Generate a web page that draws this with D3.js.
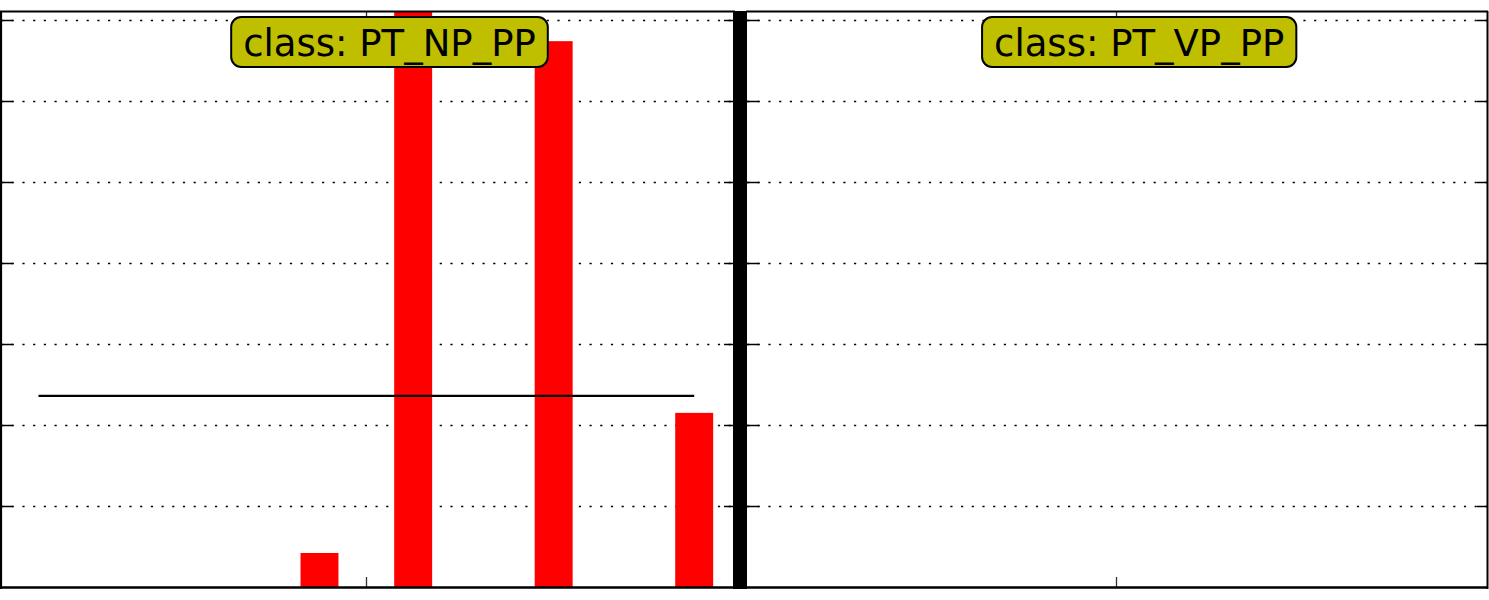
<!DOCTYPE html>
<html><head><meta charset="utf-8">
<script src="https://cdn.jsdelivr.net/npm/d3@7"></script>
<style>html,body{margin:0;padding:0;background:#fff;overflow:hidden}</style>
</head><body>
<svg id="c" width="1489" height="600"></svg>
<script>
// ---- data ----
const binCenters = [-7,-6,-5,-4,-3,-2,-1,0,1,2,3,4,5,6,7];
const countsNP = [0,0,0,0,0,0,0.42,0,7.4,0,0,6.74,0,0,2.15];
const countsVP = [0,0,0,0,0,0,0,0,0,0,0,0,0,0,0];
const refLevelNP = 2.36;
const yTicks = [0,1,2,3,4,5,6,7];
const xTicks = [0];
const panelTitles = ["class: PT_NP_PP", "class: PT_VP_PP"];

(function(){
const svg = d3.select("#c");
const yTop = 12, yBot = 587;
const panels = [
  {x0: 1, x1: 734, counts: countsNP, ref: refLevelNP, title: panelTitles[0]},
  {x0: 747, x1: 1487, counts: countsVP, ref: null, title: panelTitles[1]}
];
const y = d3.scaleLinear().domain([0, 7.1]).range([yBot, yTop]);

panels.forEach((p, i) => {
  const x = d3.scaleLinear().domain([-7.8, 7.85]).range([p.x0, p.x1]);
  const g = svg.append("g");
  const cid = "clip" + i;
  svg.append("clipPath").attr("id", cid).append("rect")
    .attr("x", p.x0).attr("y", yTop).attr("width", p.x1 - p.x0).attr("height", yBot - yTop);

  // grid
  g.selectAll(".grid").data(yTicks.slice(1)).join("line")
    .attr("x1", p.x0).attr("x2", p.x1)
    .attr("y1", d => Math.round(y(d)) + 0.5).attr("y2", d => Math.round(y(d)) + 0.5)
    .attr("stroke", "#000").attr("stroke-width", 1.5).attr("stroke-dasharray", "2.2,8.5");

  // bars
  const bw = 0.81;
  g.append("g").attr("clip-path", `url(#${cid})`)
    .selectAll("rect").data(binCenters.map((c, k) => ({c, v: p.counts[k]})).filter(d => d.v > 0))
    .join("rect")
    .attr("x", d => x(d.c - bw / 2)).attr("width", d => x(d.c + bw / 2) - x(d.c - bw / 2))
    .attr("y", d => y(d.v)).attr("height", d => y(0) - y(d.v))
    .attr("fill", "#ff0000");

  // reference line
  if (p.ref !== null) {
    g.append("line")
      .attr("x1", x(binCenters[0])).attr("x2", x(binCenters[binCenters.length - 1]))
      .attr("y1", y(p.ref)).attr("y2", y(p.ref))
      .attr("stroke", "#000").attr("stroke-width", 2.2);
  }

  // y ticks (inward, both sides)
  g.selectAll(".tl").data(yTicks.slice(1)).join("line")
    .attr("x1", p.x0).attr("x2", p.x0 + 12)
    .attr("y1", d => Math.round(y(d)) + 0.5).attr("y2", d => Math.round(y(d)) + 0.5)
    .attr("stroke", "#000").attr("stroke-width", 1.5);
  g.selectAll(".tr").data(yTicks.slice(1)).join("line")
    .attr("x1", p.x1 - 10).attr("x2", p.x1)
    .attr("y1", d => Math.round(y(d)) + 0.5).attr("y2", d => Math.round(y(d)) + 0.5)
    .attr("stroke", "#000").attr("stroke-width", 1.5);
  // x ticks
  g.selectAll(".xb").data(xTicks).join("line")
    .attr("x1", d => Math.round(x(d)) + 0.5).attr("x2", d => Math.round(x(d)) + 0.5)
    .attr("y1", yBot - 10).attr("y2", yBot).attr("stroke", "#333").attr("stroke-width", 1.3);
  g.selectAll(".xt").data(xTicks).join("line")
    .attr("x1", d => Math.round(x(d)) + 0.5).attr("x2", d => Math.round(x(d)) + 0.5)
    .attr("y1", yTop).attr("y2", yTop + 5).attr("stroke", "#333").attr("stroke-width", 1.3);

  // spines
  g.append("line").attr("x1", p.x0 - 1).attr("x2", p.x1 + 1).attr("y1", yTop - 0.5).attr("y2", yTop - 0.5)
    .attr("stroke", "#000").attr("stroke-width", 2);
  g.append("line").attr("x1", p.x0 - 1).attr("x2", p.x1 + 1).attr("y1", yBot + 0.5).attr("y2", yBot + 0.5)
    .attr("stroke", "#000").attr("stroke-width", 2.5);
  if (i === 1) {
    g.append("line").attr("x1", p.x1 + 0.5).attr("x2", p.x1 + 0.5).attr("y1", yTop - 1).attr("y2", yBot + 2)
      .attr("stroke", "#000").attr("stroke-width", 2);
  } else {
    g.append("line").attr("x1", p.x0).attr("x2", p.x0).attr("y1", yTop - 1).attr("y2", yBot + 2)
      .attr("stroke", "#000").attr("stroke-width", 2.2);
  }

  // title box
  const cx = p.x0 + 0.53 * (p.x1 - p.x0);
  const lg = svg.append("g");
  const rect = lg.append("rect");
  const t = lg.append("text").text(p.title)
    .attr("x", cx).attr("y", 43).attr("text-anchor", "middle").attr("dominant-baseline", "central")
    .attr("font-family", "DejaVu Sans").attr("font-size", 37).attr("fill", "#000");
  const w = t.node().getComputedTextLength();
  rect.attr("x", cx - w / 2 - 12).attr("y", 17).attr("width", w + 24).attr("height", 50)
    .attr("rx", 10).attr("ry", 10).attr("fill", "#bfbf00").attr("stroke", "#000").attr("stroke-width", 2);
});

// thick divider between panels
svg.append("rect").attr("x", 733).attr("y", yTop - 1).attr("width", 14).attr("height", yBot - yTop + 3).attr("fill", "#000");
})();
</script>
</body></html>
